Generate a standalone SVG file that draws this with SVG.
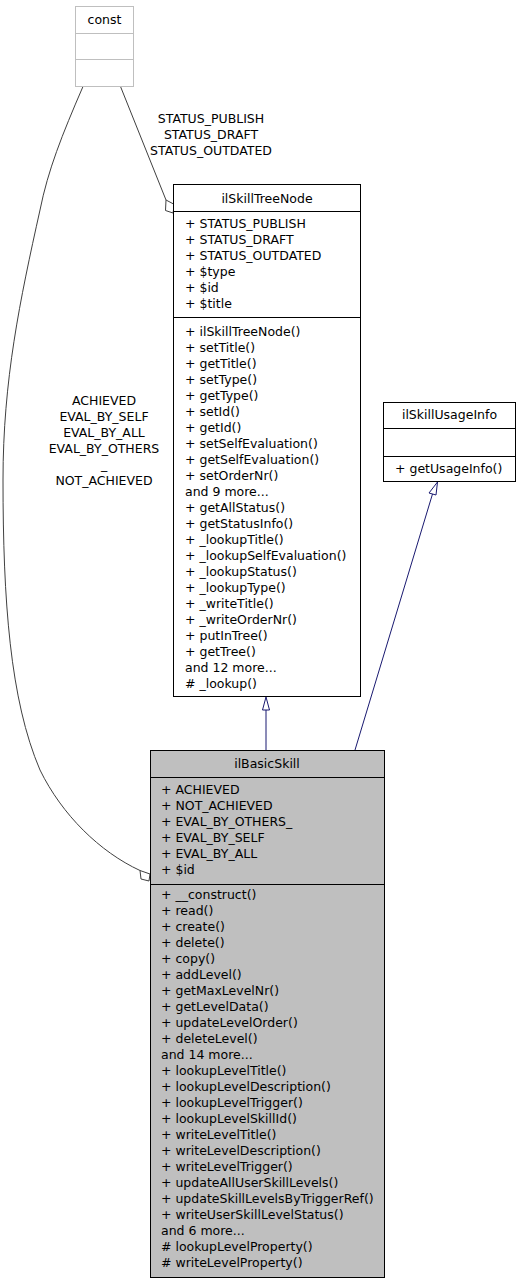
<svg xmlns="http://www.w3.org/2000/svg" width="520" height="1285" viewBox="0 0 520 1285">
<style>
text{font-family:"DejaVu Sans",sans-serif;font-size:12.5px;fill:#000}
.c{text-anchor:middle}
.box{fill:#fff;stroke:#000;stroke-width:1}
.gray{fill:#bfbfbf;stroke:#000;stroke-width:1}
.ghost{fill:#fff;stroke:#bfbfbf;stroke-width:1}
.sep{stroke:#000;stroke-width:1}
.gsep{stroke:#bfbfbf;stroke-width:1}
.agg{fill:none;stroke:#404040;stroke-width:1}
.aggh{fill:#fff;stroke:#404040;stroke-width:1}
.inh{fill:none;stroke:#191970;stroke-width:1}
.inhh{fill:#fff;stroke:#191970;stroke-width:1}
</style>
<rect width="520" height="1285" fill="#fff"/>
<g id="connectors">
<path class="agg" d="M120.5,86.5 L166,200"/>
<polygon class="aggh" points="166,200 174.5,204.5 173,213 165.5,210.5"/>
<text class="c" x="211" y="123">STATUS_PUBLISH</text>
<text class="c" x="211" y="139">STATUS_DRAFT</text>
<text class="c" x="211" y="155">STATUS_OUTDATED</text>
<path class="agg" d="M83,86.5 C62,135 48,170 40,210 C20,300 3,380 3,480 C3,600 10,700 40,770 C62,815 100,852 140,870.5"/>
<polygon class="aggh" points="140,870.5 150,874 149,881 141,879"/>
<text class="c" x="104" y="405">ACHIEVED</text>
<text class="c" x="104" y="421">EVAL_BY_SELF</text>
<text class="c" x="104" y="437">EVAL_BY_ALL</text>
<text class="c" x="104" y="453">EVAL_BY_OTHERS</text>
<text class="c" x="104" y="469">_</text>
<text class="c" x="104" y="485">NOT_ACHIEVED</text>
<path class="inh" d="M266,750 L266,710"/>
<polygon class="inhh" points="266,697 269.5,710 262.5,710"/>
<path class="inh" d="M355,750 L432.5,494"/>
<polygon class="inhh" points="437.5,482 436,495 429,493"/>
</g>
<g id="const">
<rect class="ghost" x="75.5" y="6.5" width="58" height="80"/>
<line class="gsep" x1="75.5" y1="33.5" x2="133.5" y2="33.5"/>
<line class="gsep" x1="75.5" y1="59.5" x2="133.5" y2="59.5"/>
<text class="c" x="104.5" y="24">const</text>
</g>
<g id="ilSkillTreeNode">
<rect class="box" x="173.5" y="184.5" width="187" height="512"/>
<line class="sep" x1="173.5" y1="211.5" x2="360.5" y2="211.5"/>
<line class="sep" x1="173.5" y1="317.5" x2="360.5" y2="317.5"/>
<text class="c" x="267" y="203">ilSkillTreeNode</text>
<text x="185" y="228">+ STATUS_PUBLISH</text>
<text x="185" y="244">+ STATUS_DRAFT</text>
<text x="185" y="260">+ STATUS_OUTDATED</text>
<text x="185" y="276">+ $type</text>
<text x="185" y="292">+ $id</text>
<text x="185" y="308">+ $title</text>
<text x="185" y="336">+ ilSkillTreeNode()</text>
<text x="185" y="352">+ setTitle()</text>
<text x="185" y="368">+ getTitle()</text>
<text x="185" y="384">+ setType()</text>
<text x="185" y="400">+ getType()</text>
<text x="185" y="416">+ setId()</text>
<text x="185" y="432">+ getId()</text>
<text x="185" y="448">+ setSelfEvaluation()</text>
<text x="185" y="464">+ getSelfEvaluation()</text>
<text x="185" y="480">+ setOrderNr()</text>
<text x="185" y="496">and 9 more...</text>
<text x="185" y="512">+ getAllStatus()</text>
<text x="185" y="528">+ getStatusInfo()</text>
<text x="185" y="544">+ _lookupTitle()</text>
<text x="185" y="560">+ _lookupSelfEvaluation()</text>
<text x="185" y="576">+ _lookupStatus()</text>
<text x="185" y="592">+ _lookupType()</text>
<text x="185" y="608">+ _writeTitle()</text>
<text x="185" y="624">+ _writeOrderNr()</text>
<text x="185" y="640">+ putInTree()</text>
<text x="185" y="656">+ getTree()</text>
<text x="185" y="672">and 12 more...</text>
<text x="185" y="688"># _lookup()</text>
</g>
<g id="ilSkillUsageInfo">
<rect class="box" x="383.5" y="402.5" width="132" height="79"/>
<line class="sep" x1="383.5" y1="428.5" x2="515.5" y2="428.5"/>
<line class="sep" x1="383.5" y1="456.5" x2="515.5" y2="456.5"/>
<text class="c" x="449.5" y="419">ilSkillUsageInfo</text>
<text x="395" y="473">+ getUsageInfo()</text>
</g>
<g id="ilBasicSkill">
<rect class="gray" x="150.5" y="750.5" width="234" height="527"/>
<line class="sep" x1="150.5" y1="777.5" x2="384.5" y2="777.5"/>
<line class="sep" x1="150.5" y1="884.5" x2="384.5" y2="884.5"/>
<text class="c" x="267" y="768">ilBasicSkill</text>
<text x="161" y="794">+ ACHIEVED</text>
<text x="161" y="810">+ NOT_ACHIEVED</text>
<text x="161" y="826">+ EVAL_BY_OTHERS_</text>
<text x="161" y="842">+ EVAL_BY_SELF</text>
<text x="161" y="858">+ EVAL_BY_ALL</text>
<text x="161" y="874">+ $id</text>
<text x="161" y="899">+ __construct()</text>
<text x="161" y="915">+ read()</text>
<text x="161" y="931">+ create()</text>
<text x="161" y="947">+ delete()</text>
<text x="161" y="963">+ copy()</text>
<text x="161" y="979">+ addLevel()</text>
<text x="161" y="995">+ getMaxLevelNr()</text>
<text x="161" y="1011">+ getLevelData()</text>
<text x="161" y="1027">+ updateLevelOrder()</text>
<text x="161" y="1043">+ deleteLevel()</text>
<text x="161" y="1059">and 14 more...</text>
<text x="161" y="1075">+ lookupLevelTitle()</text>
<text x="161" y="1091">+ lookupLevelDescription()</text>
<text x="161" y="1107">+ lookupLevelTrigger()</text>
<text x="161" y="1123">+ lookupLevelSkillId()</text>
<text x="161" y="1139">+ writeLevelTitle()</text>
<text x="161" y="1155">+ writeLevelDescription()</text>
<text x="161" y="1171">+ writeLevelTrigger()</text>
<text x="161" y="1187">+ updateAllUserSkillLevels()</text>
<text x="161" y="1203">+ updateSkillLevelsByTriggerRef()</text>
<text x="161" y="1219">+ writeUserSkillLevelStatus()</text>
<text x="161" y="1235">and 6 more...</text>
<text x="161" y="1251"># lookupLevelProperty()</text>
<text x="161" y="1267"># writeLevelProperty()</text>
</g>
</svg>
